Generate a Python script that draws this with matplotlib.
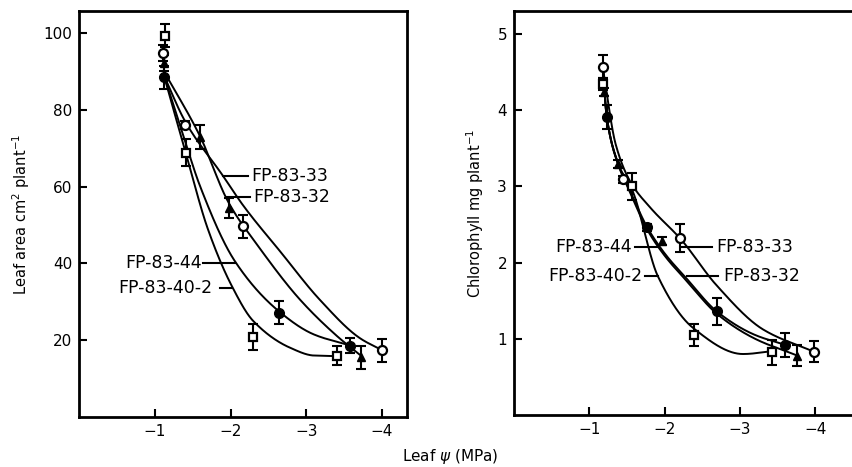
import numpy as np
import matplotlib
matplotlib.use("Agg")
import matplotlib.pyplot as plt

# ---------------- data ----------------
series = ["FP-83-33", "FP-83-32", "FP-83-44", "FP-83-40-2"]

# Left panel: leaf area (cm2 plant-1)
la_x = {
    "FP-83-33": [-1.11, -1.40, -2.17, -4.00],
    "FP-83-32": [-1.12, -1.60, -1.98, -3.72],
    "FP-83-44": [-1.12, -2.64, -3.58],
    "FP-83-40-2": [-1.14, -1.41, -2.30, -3.40],
}
la_y = {
    "FP-83-33": [94.8, 76.0, 49.7, 17.4],
    "FP-83-32": [92.2, 72.9, 54.4, 15.5],
    "FP-83-44": [88.5, 27.1, 18.6],
    "FP-83-40-2": [99.2, 68.8, 20.8, 16.0],
}
la_err = {
    "FP-83-33": [2.0, 1.0, 3.0, 3.0],
    "FP-83-32": [2.0, 3.0, 2.6, 3.0],
    "FP-83-44": [3.0, 3.0, 2.0],
    "FP-83-40-2": [3.0, 3.5, 3.3, 2.5],
}
# fitted curves (knots)
la_curve_x = {
    "FP-83-33": [-1.12, -1.40, -1.90, -2.17, -2.66, -3.18, -3.71, -4.00],
    "FP-83-32": [-1.12, -1.60, -1.97, -2.42, -2.92, -3.41, -3.72],
    "FP-83-44": [-1.12, -1.35, -1.60, -2.06, -2.64, -3.10, -3.58],
    "FP-83-40-2": [-1.12, -1.42, -1.70, -2.02, -2.30, -2.79, -3.10, -3.45],
}
la_curve_y = {
    "FP-83-33": [89, 77, 62.8, 55, 43, 30.5, 20.5, 17.4],
    "FP-83-32": [90, 73, 56, 43, 30.5, 21, 16],
    "FP-83-44": [89, 75, 60, 40.5, 27.5, 21.5, 18.6],
    "FP-83-40-2": [89, 68, 49, 34, 25, 18, 16, 15.8],
}

# Right panel: chlorophyll (mg plant-1)
ch_x = {
    "FP-83-33": [-1.18, -1.45, -2.20, -3.98],
    "FP-83-32": [-1.20, -1.38, -1.97, -3.76],
    "FP-83-44": [-1.23, -1.77, -2.69, -3.60],
    "FP-83-40-2": [-1.18, -1.57, -2.39, -3.43],
}
ch_y = {
    "FP-83-33": [4.57, 3.09, 2.32, 0.83],
    "FP-83-32": [4.24, 3.29, 2.28, 0.78],
    "FP-83-44": [3.91, 2.46, 1.36, 0.92],
    "FP-83-40-2": [4.34, 3.00, 1.05, 0.82],
}
ch_err = {
    "FP-83-33": [0.15, 0.05, 0.18, 0.14],
    "FP-83-32": [0.05, 0.05, 0.05, 0.14],
    "FP-83-44": [0.16, 0.05, 0.18, 0.16],
    "FP-83-40-2": [0.08, 0.18, 0.14, 0.16],
}
ch_curve_x = {
    "FP-83-33": [-1.18, -1.35, -1.55, -1.81, -2.22, -2.69, -3.31, -3.98],
    "FP-83-32": [-1.18, -1.23, -1.38, -1.55, -1.77, -2.00, -2.30, -2.69, -3.20, -3.76],
    "FP-83-44": [-1.18, -1.23, -1.38, -1.55, -1.77, -2.00, -2.30, -2.69, -3.20, -3.60],
    "FP-83-40-2": [-1.18, -1.23, -1.38, -1.57, -1.91, -2.38, -3.04, -3.45],
}
ch_curve_y = {
    "FP-83-33": [4.55, 3.55, 3.05, 2.72, 2.30, 1.70, 1.12, 0.83],
    "FP-83-32": [4.55, 3.92, 3.30, 2.90, 2.43, 2.09, 1.75, 1.33, 1.00, 0.78],
    "FP-83-44": [4.55, 3.92, 3.30, 2.92, 2.46, 2.12, 1.78, 1.36, 1.05, 0.92],
    "FP-83-40-2": [4.55, 3.92, 3.30, 2.95, 1.82, 1.14, 0.80, 0.84],
}

x_ticks = [-1, -2, -3, -4]
x_ticklabels = ["\u22121", "\u22122", "\u22123", "\u22124"]
la_ticks = [20, 40, 60, 80, 100]
ch_ticks = [1, 2, 3, 4, 5]

markers = {
    "FP-83-33": dict(marker="o", mfc="white", mec="black", ms=6.5, mew=1.6),
    "FP-83-32": dict(marker="^", mfc="black", mec="black", ms=5.5, mew=1.0),
    "FP-83-44": dict(marker="o", mfc="black", mec="black", ms=7, mew=1.0),
    "FP-83-40-2": dict(marker="s", mfc="white", mec="black", ms=6, mew=1.6),
}


def pchip(x, y, xs):
    x = np.asarray(x, float)
    y = np.asarray(y, float)
    o = np.argsort(x)
    x, y = x[o], y[o]
    n = len(x)
    h = np.diff(x)
    d = np.diff(y) / h
    m = np.zeros(n)
    for k in range(1, n - 1):
        if d[k - 1] * d[k] <= 0:
            m[k] = 0
        else:
            w1 = 2 * h[k] + h[k - 1]
            w2 = h[k] + 2 * h[k - 1]
            m[k] = (w1 + w2) / (w1 / d[k - 1] + w2 / d[k])
    m[0] = d[0]
    m[-1] = d[-1]
    xs = np.asarray(xs, float)
    idx = np.clip(np.searchsorted(x, xs) - 1, 0, n - 2)
    t = (xs - x[idx]) / h[idx]
    h00 = 2 * t**3 - 3 * t**2 + 1
    h10 = t**3 - 2 * t**2 + t
    h01 = -2 * t**3 + 3 * t**2
    h11 = t**3 - t**2
    return h00 * y[idx] + h10 * h[idx] * m[idx] + h01 * y[idx + 1] + h11 * h[idx] * m[idx + 1]


W, H = 852, 467
fig = plt.figure(figsize=(W / 100, H / 100), dpi=100)


def px_axes(x0, x1, ytop, ybot):
    return fig.add_axes([x0 / W, 1 - ybot / H, (x1 - x0) / W, (ybot - ytop) / H])


axL = px_axes(79, 407, 11, 417)
axR = px_axes(514, 856, 11, 415)


def style(ax):
    for s in ax.spines.values():
        s.set_linewidth(2.0)
    ax.tick_params(direction="in", length=6, width=1.5, labelsize=11, pad=5)
    ax.set_xticks(x_ticks)
    ax.set_xticklabels(x_ticklabels)


def draw(ax, xs, ys, es, cx, cy):
    for s in series:
        xx = np.linspace(min(cx[s]), max(cx[s]), 300)
        ax.plot(xx, pchip(cx[s], cy[s], xx), color="black", lw=1.4, zorder=2)
    for s in series:
        ax.errorbar(xs[s], ys[s], yerr=es[s], fmt="none", ecolor="black",
                    elinewidth=1.5, capsize=3.5, capthick=1.5, zorder=3)
        ax.plot(xs[s], ys[s], ls="none", zorder=4, **markers[s])


lab_fs = 12.5

# Left panel
draw(axL, la_x, la_y, la_err, la_curve_x, la_curve_y)
style(axL)
axL.set_xlim(0, -4.33)
axL.set_ylim(0, 105.7)
axL.set_yticks(la_ticks)
axL.set_ylabel("Leaf area cm$^2$ plant$^{-1}$", fontsize=10.5, labelpad=8)
axL.plot([-1.90, -2.23], [62.8, 62.8], color="black", lw=1.5)
axL.text(-2.27, 62.8, "FP-83-33", fontsize=lab_fs, ha="left", va="center")
axL.plot([-1.96, -2.26], [57.3, 57.3], color="black", lw=1.5)
axL.text(-2.30, 57.3, "FP-83-32", fontsize=lab_fs, ha="left", va="center")
axL.plot([-1.64, -2.06], [40.1, 40.1], color="black", lw=1.5)
axL.text(-1.62, 40.1, "FP-83-44", fontsize=lab_fs, ha="right", va="center")
axL.plot([-1.86, -2.02], [33.6, 33.6], color="black", lw=1.5)
axL.text(-1.76, 33.6, "FP-83-40-2", fontsize=lab_fs, ha="right", va="center")

# Right panel
draw(axR, ch_x, ch_y, ch_err, ch_curve_x, ch_curve_y)
style(axR)
axR.spines["right"].set_visible(False)
axR.set_xlim(0, -4.54)
axR.set_ylim(0, 5.3)
axR.set_yticks(ch_ticks)
axR.set_ylabel("Chlorophyll mg plant$^{-1}$", fontsize=10.5, labelpad=8)
axR.plot([-1.61, -1.91], [2.21, 2.21], color="black", lw=1.5)
axR.text(-1.57, 2.21, "FP-83-44", fontsize=lab_fs, ha="right", va="center")
axR.plot([-1.74, -1.91], [1.82, 1.82], color="black", lw=1.5)
axR.text(-1.70, 1.82, "FP-83-40-2", fontsize=lab_fs, ha="right", va="center")
axR.plot([-2.23, -2.63], [2.21, 2.21], color="black", lw=1.5)
axR.text(-2.69, 2.21, "FP-83-33", fontsize=lab_fs, ha="left", va="center")
axR.plot([-2.30, -2.71], [1.82, 1.82], color="black", lw=1.5)
axR.text(-2.78, 1.82, "FP-83-32", fontsize=lab_fs, ha="left", va="center")

fig.text(450 / W, 1 - 457 / H, "Leaf $\\psi$ (MPa)", fontsize=11, ha="center", va="center")

fig.savefig("out.png", dpi=100)
